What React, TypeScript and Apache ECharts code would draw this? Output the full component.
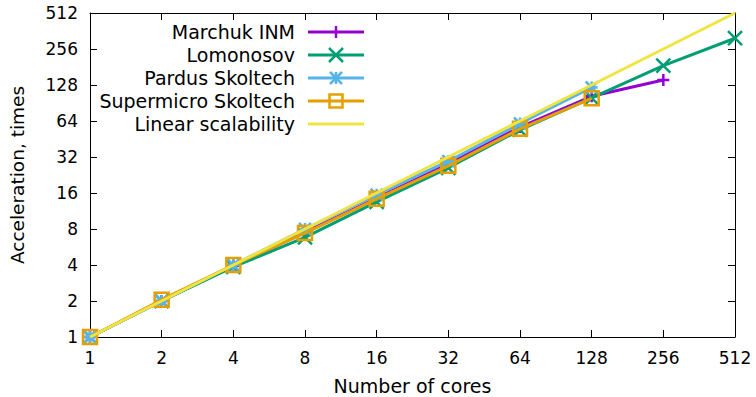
import React, { useEffect, useRef } from "react";
import * as echarts from "echarts";

const cores = [1, 2, 4, 8, 16, 32, 64, 128, 256, 512];
const marchukINM = [1, 2, 3.95, 7.5, 14.5, 28, 57, 103, 141];
const lomonosov = [1, 2, 3.85, 6.8, 13.5, 26, 54, 100, 186, 315];
const pardusSkoltech = [1, 2, 4, 8, 15.5, 29.5, 61, 122];
const supermicroSkoltech = [1, 2.05, 4, 7.4, 14.3, 27, 55, 99];
const linearScalability = [1, 2, 4, 8, 16, 32, 64, 128, 256, 512];

const seriesNames = ["Marchuk INM", "Lomonosov", "Pardus Skoltech", "Supermicro Skoltech", "Linear scalability"];
const seriesColors = ["#9400d3", "#009e73", "#56b4e9", "#e69f00", "#f0e442"];
const xAxisName = "Number of cores";
const yAxisName = "Acceleration, times";

const FONT = "DejaVu Sans";
const PLUS = "path://M5,0L5,10M0,5L10,5";
const CROSS = "path://M0,0L10,10M10,0L0,10";
const STAR = "path://M5,0L5,10M0,5L10,5M0,0L10,10M10,0L0,10";
const SQUARE = "path://M0,0L10,0L10,10L0,10Z";

const pairs = (ys: number[]) => ys.map((y, i) => [cores[i], y]);

function logAxis(pos: string, labels: boolean, extra: any = {}) {
  return {
    type: "log",
    logBase: 2,
    min: 1,
    max: 512,
    splitNumber: 9,
    position: pos,
    axisLine: { show: true, lineStyle: { color: "#000", width: 1 } },
    axisTick: { show: true, inside: true, length: 7, lineStyle: { color: "#000", width: 1 } },
    axisLabel: { show: labels, color: "#000", fontFamily: FONT, fontSize: 17, margin: 12 },
    splitLine: { show: false },
    minorTick: { show: false },
    ...extra,
  };
}

export default function App() {
  const ref = useRef<HTMLDivElement>(null);
  useEffect(() => {
    const chart = echarts.init(ref.current!, null, { renderer: "svg" });
    const datas = [marchukINM, lomonosov, pardusSkoltech, supermicroSkoltech, linearScalability];
    const symbols = [PLUS, CROSS, STAR, SQUARE, "none"];
    const sizes = [12, 14, 12, 14, 0];
    const series = datas.map((d, i) => ({
      type: "line",
      name: seriesNames[i],
      xAxisIndex: 0,
      yAxisIndex: 0,
      data: pairs(d),
      symbol: symbols[i],
      symbolSize: sizes[i],
      showSymbol: i < 4,
      showAllSymbol: true,
      lineStyle: { color: seriesColors[i], width: 3 },
      itemStyle: { color: "rgba(0,0,0,0)", borderColor: seriesColors[i], borderWidth: 2.5 },
      emphasis: { disabled: true },
      silent: true,
      z: 2 + i,
    }));

    const rows = [32, 55, 78, 101, 124];
    const lx1 = 308, lx2 = 364, mx = 336;
    const legendEls: any[] = [];
    rows.forEach((y, i) => {
      const c = seriesColors[i];
      legendEls.push({
        type: "text",
        x: 295,
        y,
        style: { text: seriesNames[i], align: "right", verticalAlign: "middle", font: `19px "${FONT}"`, fill: "#000" },
      });
      legendEls.push({ type: "line", shape: { x1: lx1, y1: y, x2: lx2, y2: y }, style: { stroke: c, lineWidth: 3 } });
      const st = { stroke: c, lineWidth: 2.5, fill: "none" };
      if (i === 0 || i === 2) {
        legendEls.push({ type: "line", shape: { x1: mx, y1: y - 6, x2: mx, y2: y + 6 }, style: st });
      }
      if (i === 1 || i === 2) {
        const h = i === 1 ? 7 : 6;
        legendEls.push({ type: "line", shape: { x1: mx - h, y1: y - h, x2: mx + h, y2: y + h }, style: st });
        legendEls.push({ type: "line", shape: { x1: mx - h, y1: y + h, x2: mx + h, y2: y - h }, style: st });
      }
      if (i === 3) {
        legendEls.push({ type: "rect", shape: { x: mx - 6.5, y: y - 6.5, width: 13, height: 13 }, style: st });
      }
    });

    chart.setOption({
      animation: false,
      backgroundColor: "#fff",
      textStyle: { fontFamily: FONT },
      grid: { left: 90, right: 21, top: 13, bottom: 60, containLabel: false, outerBoundsMode: "none" },
      xAxis: [
        logAxis("bottom", true, {
          name: xAxisName,
          nameLocation: "middle",
          nameGap: 39,
          nameTextStyle: { color: "#000", fontFamily: FONT, fontSize: 19 },
        }),
        logAxis("top", false),
      ],
      yAxis: [
        logAxis("left", true, {
          name: yAxisName,
          nameLocation: "middle",
          nameGap: 63,
          nameTextStyle: { color: "#000", fontFamily: FONT, fontSize: 18.5 },
        }),
        logAxis("right", false),
      ],
      series,
      graphic: legendEls,
    });
    return () => chart.dispose();
  }, []);
  return <div ref={ref} style={{ position: "fixed", left: 0, top: 0, width: 756, height: 397 }} />;
}
